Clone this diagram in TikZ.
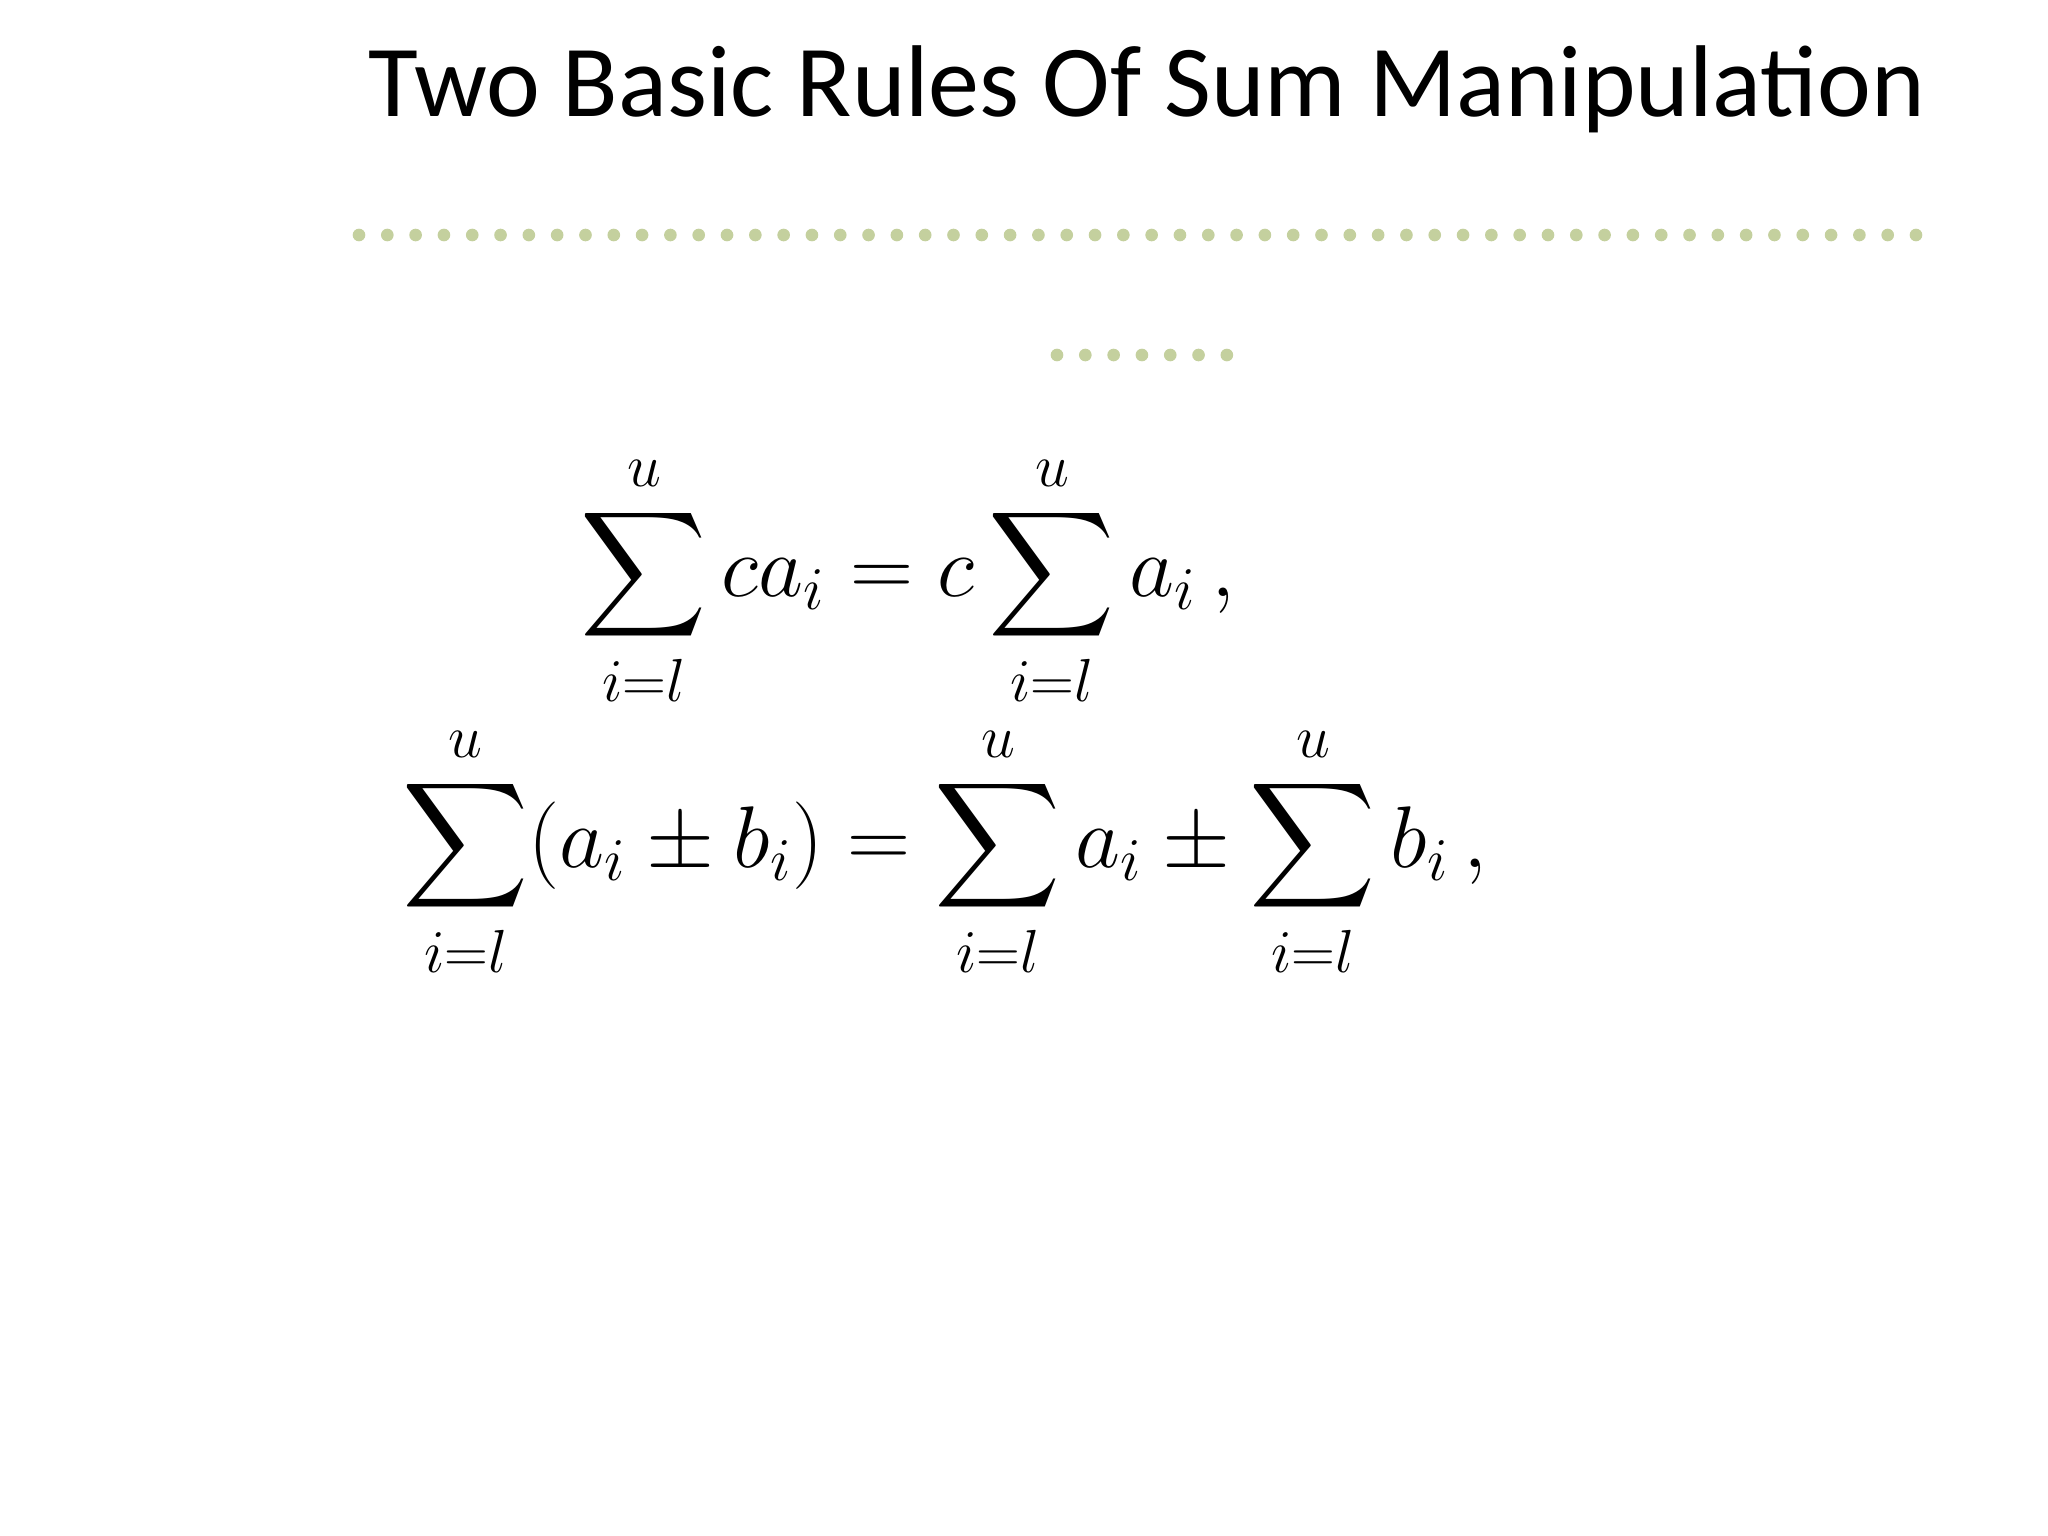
\documentclass[tikz,border=0pt]{standalone}
\usepackage{amsmath}
\usepackage{fontspec}
\newfontfamily\titlefont{Carlito}
\definecolor{dotgreen}{RGB}{196,208,158}
\begin{document}
\begin{tikzpicture}[x=0.01cm,y=-0.01cm,
  dotline/.style={dotgreen,line width=3.6pt,line cap=round,dash pattern=on 0pt off 8.05pt},
  eq/.style={font=\fontsize{26.7}{31}\selectfont,inner sep=0pt}]
\useasboundingbox (0,0) rectangle (2048,1536);
\node[font=\titlefont\fontsize{29}{34}\selectfont] (title) at (1147,89) {Two Basic Rules Of Sum Manipulation};
\coordinate (l1a) at (359,235); \coordinate (l1b) at (1941,235);
\coordinate (l2a) at (1057,355); \coordinate (l2b) at (1242,355);
\draw[dotline] (l1a) -- (l1b);
\draw[dotline] (l2a) -- (l2b);
\node[eq] (e1) at (908,581) {$\displaystyle \sum_{i=l}^{u} c a_i = c\sum_{i=l}^{u} a_i\,,$};
\node[eq] (e2) at (945,852) {$\displaystyle \sum_{i=l}^{u}(a_i \pm b_i) = \sum_{i=l}^{u} a_i \pm \sum_{i=l}^{u} b_i\,,$};
\end{tikzpicture}
\end{document}
